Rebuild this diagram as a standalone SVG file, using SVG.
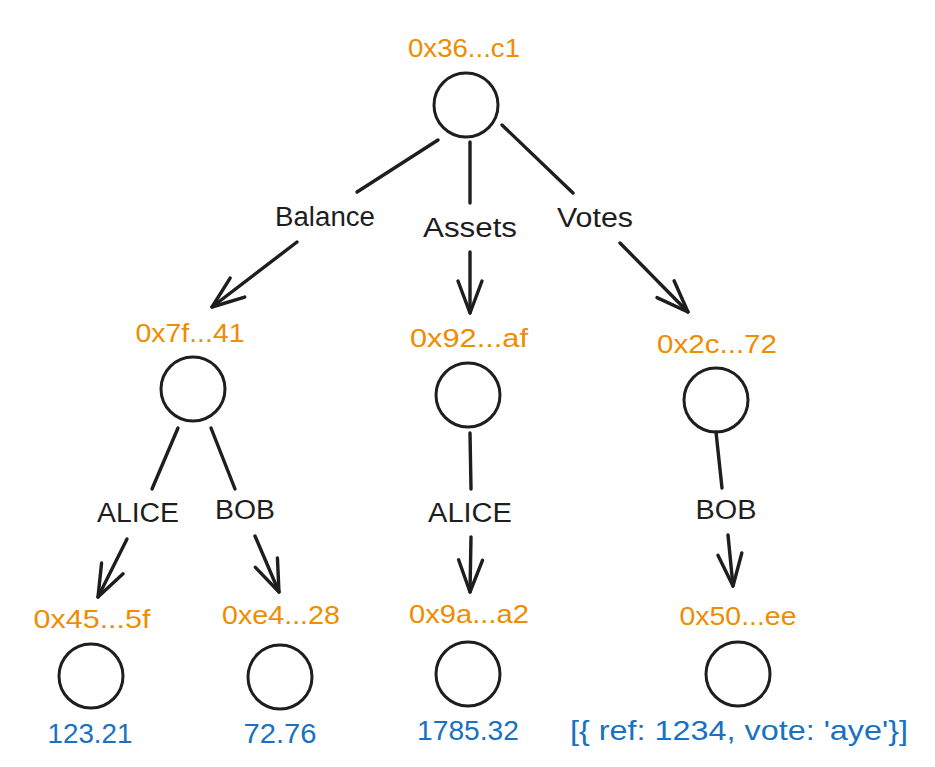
<svg xmlns="http://www.w3.org/2000/svg" width="935" height="767" viewBox="0 0 935 767">
<style>
  .node circle { fill: none; stroke: #1e1e1e; stroke-width: 3; }
  .hash { font-family: "Liberation Sans", "DejaVu Sans", sans-serif; font-size: 26px; fill: #f08c00; text-anchor: middle; }
  .val { font-family: "Liberation Sans", "DejaVu Sans", sans-serif; font-size: 28px; fill: #1971c2; text-anchor: middle; }
  .lbl { font-family: "Liberation Sans", "DejaVu Sans", sans-serif; font-size: 27px; fill: #1e1e1e; text-anchor: middle; }
  .edge line { stroke: #1e1e1e; stroke-width: 3.4; stroke-linecap: round; fill: none; }
  .edge line.arr { marker-end: url(#ah); }
</style>
<defs>
  <marker id="ah" markerUnits="userSpaceOnUse" viewBox="-36 -16 40 32" refX="0" refY="0" markerWidth="40" markerHeight="32" orient="auto">
    <path d="M -32 -12 L 0 0 L -32 12" fill="none" stroke="#1e1e1e" stroke-width="3.4" stroke-linecap="round" stroke-linejoin="round"/>
  </marker>
</defs>
<rect width="935" height="767" fill="#ffffff"/>

<g id="connectors" class="edge">
  <line x1="438" y1="140" x2="357" y2="192"/>
  <line class="arr" x1="297" y1="242" x2="212" y2="307"/>
  <line x1="470" y1="142" x2="470" y2="203"/>
  <line class="arr" x1="470" y1="252" x2="470" y2="313"/>
  <line x1="502" y1="125" x2="573" y2="193"/>
  <line class="arr" x1="620" y1="243" x2="688" y2="312"/>
  <line x1="178" y1="428" x2="152" y2="489"/>
  <line class="arr" x1="127" y1="539" x2="98" y2="597"/>
  <line x1="211" y1="428" x2="235" y2="489"/>
  <line class="arr" x1="255" y1="536" x2="279" y2="592"/>
  <line x1="470" y1="433" x2="471" y2="489"/>
  <line class="arr" x1="471" y1="537" x2="470" y2="592"/>
  <line x1="716" y1="432" x2="722" y2="488"/>
  <line class="arr" x1="728" y1="535" x2="733" y2="586"/>
  <text class="lbl" x="325" y="226" textLength="100" lengthAdjust="spacingAndGlyphs">Balance</text>
  <text class="lbl" x="470" y="237" textLength="94" lengthAdjust="spacingAndGlyphs">Assets</text>
  <text class="lbl" x="595" y="227" textLength="76" lengthAdjust="spacingAndGlyphs">Votes</text>
  <text class="lbl" x="138" y="522" textLength="82" lengthAdjust="spacingAndGlyphs">ALICE</text>
  <text class="lbl" x="245" y="519" textLength="60" lengthAdjust="spacingAndGlyphs">BOB</text>
  <text class="lbl" x="470" y="522" textLength="84" lengthAdjust="spacingAndGlyphs">ALICE</text>
  <text class="lbl" x="726" y="519" textLength="61" lengthAdjust="spacingAndGlyphs">BOB</text>
</g>

<g id="root" class="node">
  <text class="hash" x="464" y="57" textLength="112" lengthAdjust="spacingAndGlyphs">0x36...c1</text>
  <circle cx="466" cy="105" r="32"/>
</g>
<g id="balance" class="node">
  <text class="hash" x="190" y="342" textLength="109" lengthAdjust="spacingAndGlyphs">0x7f...41</text>
  <circle cx="193" cy="389" r="32"/>
</g>
<g id="assets" class="node">
  <text class="hash" x="469" y="347" textLength="118" lengthAdjust="spacingAndGlyphs">0x92...af</text>
  <circle cx="468" cy="395" r="32"/>
</g>
<g id="votes" class="node">
  <text class="hash" x="717" y="353" textLength="120" lengthAdjust="spacingAndGlyphs">0x2c...72</text>
  <circle cx="716" cy="400" r="32"/>
</g>
<g id="balance-alice" class="node">
  <text class="hash" x="92" y="628" textLength="117" lengthAdjust="spacingAndGlyphs">0x45...5f</text>
  <circle cx="91" cy="676" r="32"/>
  <text class="val" x="90" y="743" textLength="85" lengthAdjust="spacingAndGlyphs">123.21</text>
</g>
<g id="balance-bob" class="node">
  <text class="hash" x="281" y="624" textLength="118" lengthAdjust="spacingAndGlyphs">0xe4...28</text>
  <circle cx="280" cy="677" r="32"/>
  <text class="val" x="280" y="743" textLength="73" lengthAdjust="spacingAndGlyphs">72.76</text>
</g>
<g id="assets-alice" class="node">
  <text class="hash" x="469" y="623" textLength="120" lengthAdjust="spacingAndGlyphs">0x9a...a2</text>
  <circle cx="468" cy="674" r="32"/>
  <text class="val" x="468" y="740" textLength="102" lengthAdjust="spacingAndGlyphs">1785.32</text>
</g>
<g id="votes-bob" class="node">
  <text class="hash" x="738" y="625" textLength="117" lengthAdjust="spacingAndGlyphs">0x50...ee</text>
  <circle cx="738" cy="674" r="32"/>
  <text class="val" x="739" y="740" textLength="338" lengthAdjust="spacingAndGlyphs">[{ ref: 1234, vote: 'aye'}]</text>
</g>
</svg>
